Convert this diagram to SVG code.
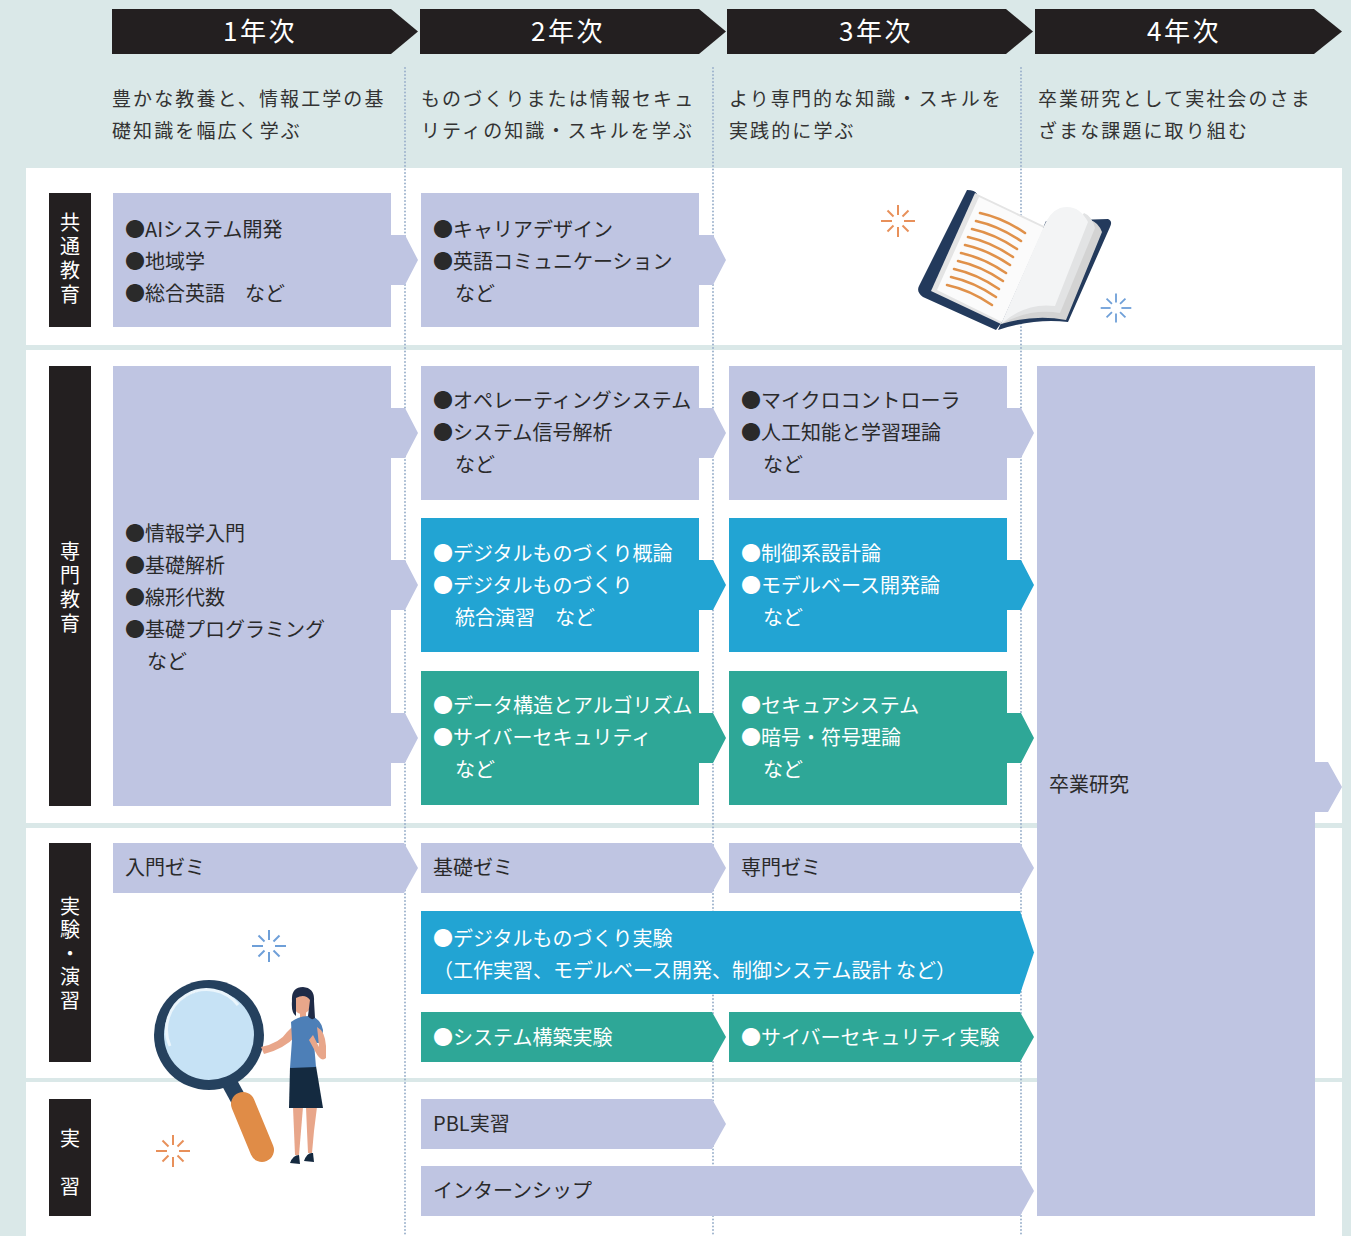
<svg xmlns="http://www.w3.org/2000/svg" width="1351" height="1236" viewBox="0 0 1351 1236">
  <defs>
    <style>
      .jp { font-family: "Noto Sans CJK JP", "Noto Sans", sans-serif; }
      .head { font-size: 26px; fill: #ffffff; letter-spacing: 2.5px; }
      .desc { font-size: 19px; fill: #333333; letter-spacing: 2.1px; }
      .lbl { font-size: 20px; fill: #ffffff; writing-mode: vertical-rl; letter-spacing: 4px; }
      .t { font-size: 20px; fill: #2a2a2a; }
      .tw { font-size: 20px; fill: #ffffff; }
      .lav { fill: #bfc5e2; }
      .blu { fill: #22a4d3; }
      .tea { fill: #2ea797; }
      .bar { fill: #231f20; }
      .grid { stroke: #9cb2cc; stroke-width: 2; stroke-dasharray: 0.1 3.4; stroke-linecap: round; fill: none; }
    </style>
    <g id="spark" stroke="currentColor" stroke-width="2" stroke-linecap="butt" fill="none">
      <line x1="0" y1="-6" x2="0" y2="-16"/>
      <line x1="0" y1="6" x2="0" y2="16"/>
      <line x1="-6" y1="0" x2="-17" y2="0"/>
      <line x1="6" y1="0" x2="17" y2="0"/>
      <line x1="4.5" y1="-4.5" x2="10.5" y2="-10.5"/>
      <line x1="-4.5" y1="-4.5" x2="-10.5" y2="-10.5"/>
      <line x1="4.5" y1="4.5" x2="10.5" y2="10.5"/>
      <line x1="-4.5" y1="4.5" x2="-10.5" y2="10.5"/>
    </g>
  </defs>

  <!-- page background and row panels -->
  <rect x="0" y="0" width="1351" height="1236" fill="#dae8e8"/>
  <rect x="26" y="168" width="1316" height="177" fill="#ffffff"/>
  <rect x="26" y="350" width="1316" height="473" fill="#ffffff"/>
  <rect x="26" y="828" width="1316" height="250" fill="#ffffff"/>
  <rect x="26" y="1082" width="1316" height="154" fill="#ffffff"/>

  <!-- year column separators -->
  <g id="connectors">
    <line class="grid" x1="405" y1="68" x2="405" y2="1236"/>
    <line class="grid" x1="713" y1="68" x2="713" y2="1236"/>
    <line class="grid" x1="1021" y1="68" x2="1021" y2="1236"/>
  </g>

  <!-- year header chevrons -->
  <g id="year1">
    <path class="bar" d="M112,9 H391 L418,31.5 L391,54 H112 Z"/>
    <text class="jp head" x="260" y="41" text-anchor="middle">1年次</text>
    <text class="jp desc" x="112" y="106">豊かな教養と、情報工学の基</text>
    <text class="jp desc" x="112" y="138">礎知識を幅広く学ぶ</text>
  </g>
  <g id="year2">
    <path class="bar" d="M420,9 H699 L726,31.5 L699,54 H420 Z"/>
    <text class="jp head" x="568" y="41" text-anchor="middle">2年次</text>
    <text class="jp desc" x="421" y="106">ものづくりまたは情報セキュ</text>
    <text class="jp desc" x="421" y="138">リティの知識・スキルを学ぶ</text>
  </g>
  <g id="year3">
    <path class="bar" d="M727,9 H1006 L1033,31.5 L1006,54 H727 Z"/>
    <text class="jp head" x="876" y="41" text-anchor="middle">3年次</text>
    <text class="jp desc" x="729" y="106">より専門的な知識・スキルを</text>
    <text class="jp desc" x="729" y="138">実践的に学ぶ</text>
  </g>
  <g id="year4">
    <path class="bar" d="M1035,9 H1314 L1342,31.5 L1314,54 H1035 Z"/>
    <text class="jp head" x="1184" y="41" text-anchor="middle">4年次</text>
    <text class="jp desc" x="1038" y="106">卒業研究として実社会のさま</text>
    <text class="jp desc" x="1038" y="138">ざまな課題に取り組む</text>
  </g>

  <!-- row labels (vertical text) -->
  <g id="label-common">
    <rect class="bar" x="49" y="193" width="42" height="134"/>
    <text class="jp lbl" x="70" y="212">共通教育</text>
  </g>
  <g id="label-major">
    <rect class="bar" x="49" y="366" width="42" height="440"/>
    <text class="jp lbl" x="70" y="541">専門教育</text>
  </g>
  <g id="label-exercise">
    <rect class="bar" x="49" y="843" width="42" height="219"/>
    <text class="jp lbl" x="70" y="896" style="letter-spacing:3.5px">実験・演習</text>
  </g>
  <g id="label-practice">
    <rect class="bar" x="49" y="1099" width="42" height="117"/>
    <text class="jp lbl" x="70" y="1128">実　習</text>
  </g>

  <!-- common education -->
  <g id="common-y1">
    <path class="lav" d="M113,193 H391 V235 H405 L418,260 L405,285 H391 V327 H113 Z"/>
    <text class="jp t" x="125" y="237">●AIシステム開発</text>
    <text class="jp t" x="125" y="269">●地域学</text>
    <text class="jp t" x="125" y="301">●総合英語　など</text>
  </g>
  <g id="common-y2">
    <path class="lav" d="M421,193 H699 V235 H713 L726,260 L713,285 H699 V327 H421 Z"/>
    <text class="jp t" x="433" y="237">●キャリアデザイン</text>
    <text class="jp t" x="433" y="269">●英語コミュニケーション</text>
    <text class="jp t" x="455" y="301">など</text>
  </g>

  <!-- major education -->
  <g id="major-y1">
    <path class="lav" d="M113,366 H391 V408 H405 L418,433 L405,458 H391 V560 H405 L418,585 L405,610 H391 V713 H405 L418,738 L405,763 H391 V806 H113 Z"/>
    <text class="jp t" x="125" y="541">●情報学入門</text>
    <text class="jp t" x="125" y="573">●基礎解析</text>
    <text class="jp t" x="125" y="605">●線形代数</text>
    <text class="jp t" x="125" y="637">●基礎プログラミング</text>
    <text class="jp t" x="147" y="669">など</text>
  </g>
  <g id="major-y2-os">
    <path class="lav" d="M421,366 H699 V408 H713 L726,433 L713,458 H699 V500 H421 Z"/>
    <text class="jp t" x="433" y="408">●オペレーティングシステム</text>
    <text class="jp t" x="433" y="440">●システム信号解析</text>
    <text class="jp t" x="455" y="472">など</text>
  </g>
  <g id="major-y2-digital">
    <path class="blu" d="M421,518 H699 V560 H713 L726,585 L713,610 H699 V652 H421 Z"/>
    <text class="jp tw" x="433" y="561">●デジタルものづくり概論</text>
    <text class="jp tw" x="433" y="593">●デジタルものづくり</text>
    <text class="jp tw" x="455" y="625">統合演習　など</text>
  </g>
  <g id="major-y2-security">
    <path class="tea" d="M421,671 H699 V713 H713 L726,738 L713,763 H699 V805 H421 Z"/>
    <text class="jp tw" x="433" y="713">●データ構造とアルゴリズム</text>
    <text class="jp tw" x="433" y="745">●サイバーセキュリティ</text>
    <text class="jp tw" x="455" y="777">など</text>
  </g>
  <g id="major-y3-mcu">
    <path class="lav" d="M729,366 H1007 V408 H1021 L1034,433 L1021,458 H1007 V500 H729 Z"/>
    <text class="jp t" x="741" y="408">●マイクロコントローラ</text>
    <text class="jp t" x="741" y="440">●人工知能と学習理論</text>
    <text class="jp t" x="763" y="472">など</text>
  </g>
  <g id="major-y3-control">
    <path class="blu" d="M729,518 H1007 V560 H1021 L1034,585 L1021,610 H1007 V652 H729 Z"/>
    <text class="jp tw" x="741" y="561">●制御系設計論</text>
    <text class="jp tw" x="741" y="593">●モデルベース開発論</text>
    <text class="jp tw" x="763" y="625">など</text>
  </g>
  <g id="major-y3-secure">
    <path class="tea" d="M729,671 H1007 V713 H1021 L1034,738 L1021,763 H1007 V805 H729 Z"/>
    <text class="jp tw" x="741" y="713">●セキュアシステム</text>
    <text class="jp tw" x="741" y="745">●暗号・符号理論</text>
    <text class="jp tw" x="763" y="777">など</text>
  </g>
  <g id="thesis">
    <path class="lav" d="M1037,366 H1315 V762 H1328 L1342,787 L1328,812 H1315 V1216 H1037 Z"/>
    <text class="jp t" x="1049" y="792">卒業研究</text>
  </g>

  <!-- seminars and experiments -->
  <g id="seminar-intro">
    <path class="lav" d="M113,843 H404 L418,868 L404,893 H113 Z"/>
    <text class="jp t" x="125" y="875">入門ゼミ</text>
  </g>
  <g id="seminar-basic">
    <path class="lav" d="M421,843 H712 L726,868 L712,893 H421 Z"/>
    <text class="jp t" x="433" y="875">基礎ゼミ</text>
  </g>
  <g id="seminar-major">
    <path class="lav" d="M729,843 H1020 L1034,868 L1020,893 H729 Z"/>
    <text class="jp t" x="741" y="875">専門ゼミ</text>
  </g>
  <g id="exp-digital">
    <path class="blu" d="M421,911 H1020 L1034,952.5 L1020,994 H421 Z"/>
    <text class="jp tw" x="433" y="946">●デジタルものづくり実験</text>
    <text class="jp tw" x="433" y="978">（工作実習、モデルベース開発、制御システム設計 など）</text>
  </g>
  <g id="exp-system">
    <path class="tea" d="M421,1012 H712 L726,1037 L712,1062 H421 Z"/>
    <text class="jp tw" x="433" y="1045">●システム構築実験</text>
  </g>
  <g id="exp-cyber">
    <path class="tea" d="M729,1012 H1020 L1034,1037 L1020,1062 H729 Z"/>
    <text class="jp tw" x="741" y="1045">●サイバーセキュリティ実験</text>
  </g>

  <!-- practice -->
  <g id="pbl">
    <path class="lav" d="M421,1099 H712 L726,1124 L712,1149 H421 Z"/>
    <text class="jp t" x="433" y="1131">PBL実習</text>
  </g>
  <g id="internship">
    <path class="lav" d="M421,1166 H1020 L1034,1191 L1020,1216 H421 Z"/>
    <text class="jp t" x="433" y="1198">インターンシップ</text>
  </g>

  <!-- open book illustration -->
  <g id="book">
    <path d="M967,190 Q975,190 977,194 L935,289 L1002,322 L996,330 L923,297 Q916,292 919,286 Z" fill="#233a5c"/>
    <path d="M1046,221 L1108,219 Q1113,221 1110,227 L1068,322 Q1035,318 998,330 Z" fill="#233a5c"/>
    <path d="M975,193 L1044,226 L1001,324 L931,291 Z" fill="#e4e4e4"/>
    <path d="M979,197 L1044,228 L1002,322 L937,290 Z" fill="#fbfbfb"/>
    <g stroke="#e0914a" stroke-width="2.6" fill="none" stroke-linecap="round">
      <path d="M980,213 Q1003,218 1025,233"/>
      <path d="M976,221 Q999,226 1021,241"/>
      <path d="M972,229 Q995,234 1017,249"/>
      <path d="M968,237 Q991,242 1013,257"/>
      <path d="M965,245 Q988,250 1010,265"/>
      <path d="M961,253 Q984,258 1006,273"/>
      <path d="M958,261 Q981,266 1003,281"/>
      <path d="M954,269 Q977,274 999,289"/>
      <path d="M951,277 Q974,282 996,297"/>
      <path d="M947,285 Q970,290 992,305"/>
    </g>
    <path d="M1001,324 Q1035,314 1066,320 L1102,232 Q1098,222 1090,220 Z" fill="#d3d3d3"/>
    <path d="M1001,324 Q1030,308 1060,313 L1095,228 Q1092,216 1084,213 Z" fill="#e2e3e4"/>
    <path d="M1001,324 Q1026,302 1055,306 L1088,222 Q1078,203 1060,208 Q1050,212 1044,226 Z" fill="#f3f4f5"/>
  </g>
  <use href="#spark" x="898" y="221" color="#e8905a"/>
  <use href="#spark" x="1116" y="308" color="#6e9fd8" transform="translate(1116,308) scale(0.9) translate(-1116,-308)"/>

  <!-- magnifier and figure illustration -->
  <g id="magnifier">
    <line x1="229" y1="1082" x2="241" y2="1104" stroke="#25415e" stroke-width="16"/>
    <line x1="243" y1="1104" x2="262" y2="1150" stroke="#e08c47" stroke-width="24" stroke-linecap="round"/>
    <circle cx="209" cy="1035" r="55" fill="#25415e"/>
    <circle cx="209" cy="1035" r="45" fill="#c6e2f5"/>
    <path d="M170,1046 A40,40 0 0 1 238,1005" stroke="#eaf5fc" stroke-width="3" fill="none"/>
  </g>
  <g id="figure">
    <path d="M293,1107 L303,1107 L301,1131 L299,1155 L295,1155 L294,1131 Z" fill="#e8a68a"/>
    <path d="M306,1107 L317,1107 L314,1131 L312,1153 L308,1153 L307,1131 Z" fill="#e8a68a"/>
    <path d="M290,1163 Q293,1155 299,1155 L300,1164 Z" fill="#14293f"/>
    <path d="M304,1161 Q307,1152 313,1153 L314,1162 Z" fill="#14293f"/>
    <path d="M290,1067 L316,1066 L323,1108 L289,1108 Z" fill="#142a40"/>
    <path d="M293,1026 L296,1036 Q284,1049 264,1054 L261,1047 Q280,1043 287,1032 Z" fill="#e8a68a"/>
    <path d="M300,1011 L306,1011 L306,1019 L300,1019 Z" fill="#e8a68a"/>
    <path d="M291,1022 Q300,1015 311,1016 Q321,1019 323,1030 L322,1043 L314,1043 L316,1067 L290,1068 L292,1040 Z" fill="#4d7fb7"/>
    <path d="M317,1027 Q325,1031 326,1046 L326,1058 Q321,1063 315,1051 L309,1040 L313,1035 L319,1047 L318,1036 Z" fill="#e8a68a"/>
    <ellipse cx="302" cy="1003" rx="9" ry="11" fill="#e8a68a"/>
    <path d="M292,1001 Q291,987 303,987 Q315,988 314,1001 L315,1018 Q311,1021 308,1016 L310,1000 Q305,993 296,998 L296,1016 Q291,1013 292,1001 Z" fill="#1f2b47"/>
  </g>
  <use href="#spark" x="269" y="946" color="#6e9fd8"/>
  <use href="#spark" x="173" y="1151" color="#e8905a"/>
</svg>
